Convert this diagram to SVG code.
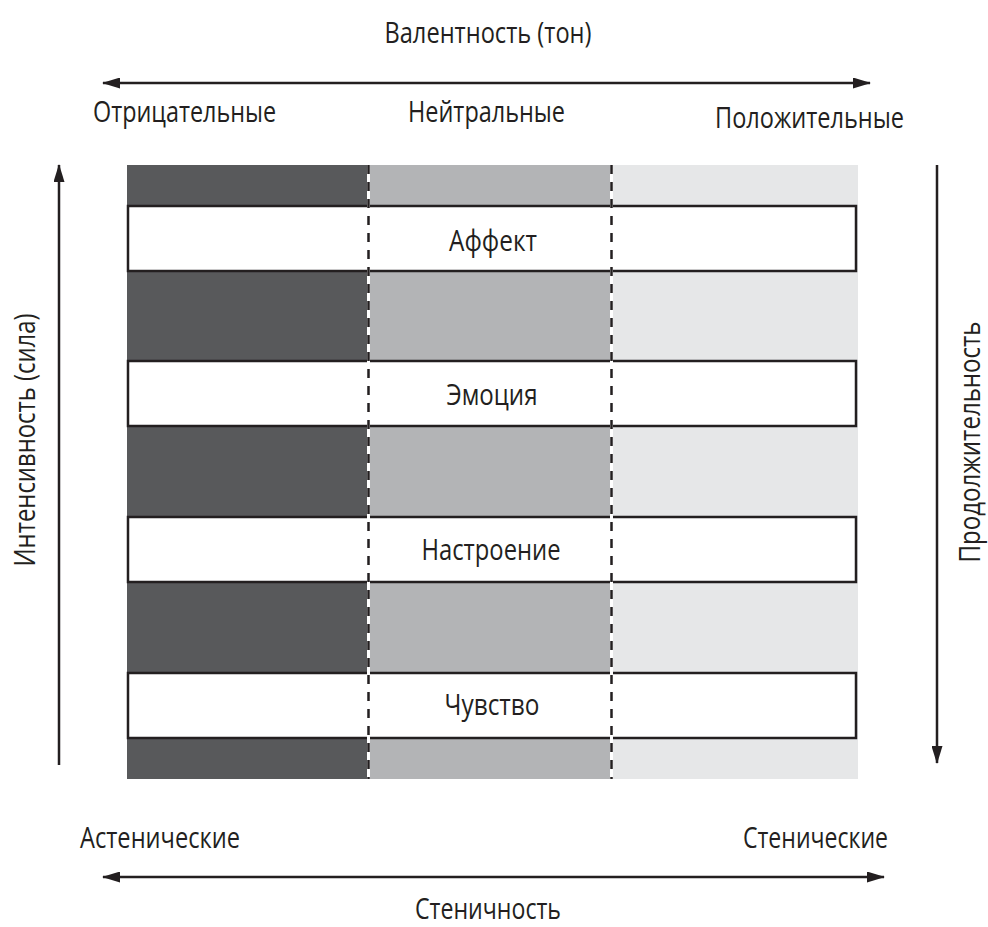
<svg xmlns="http://www.w3.org/2000/svg" width="988" height="927" viewBox="0 0 988 927">
<defs>
<style>
text{font-family:"Open Sans","Liberation Sans",sans-serif;font-size:29px;fill:#231f20;text-anchor:middle}
.box{fill:#fff;stroke:#231f20;stroke-width:2.5}
.gapline{stroke:#fff;stroke-width:3}
.dash{stroke:#231f20;stroke-width:2.5;stroke-dasharray:9,8}
.ax{stroke:#231f20;stroke-width:2.5;fill:none}
</style>
<marker id="ah" viewBox="0 0 18 11" refX="17" refY="5.5" markerWidth="18" markerHeight="11" markerUnits="userSpaceOnUse" orient="auto-start-reverse">
<path d="M0,0 L18,5.5 L0,11 z" fill="#231f20"/>
</marker>
</defs>
<rect width="988" height="927" fill="#fff"/>
<g id="bands">
<rect x="127" y="165" width="242" height="614" fill="#58595b"/>
<rect x="369" y="165" width="243" height="614" fill="#b3b4b6"/>
<rect x="612" y="165" width="246" height="614" fill="#e6e7e8"/>
</g>
<g id="affect"><rect class="box" x="128" y="206" width="728" height="65"/></g>
<g id="emotion"><rect class="box" x="128" y="361" width="728" height="65"/></g>
<g id="mood"><rect class="box" x="128" y="517" width="728" height="65"/></g>
<g id="feeling"><rect class="box" x="128" y="673" width="728" height="65"/></g>
<g id="dividers">
<line class="gapline" x1="368.5" y1="165" x2="368.5" y2="779"/>
<line class="gapline" x1="611.5" y1="165" x2="611.5" y2="779"/>
<line class="dash" x1="368.5" y1="165" x2="368.5" y2="779"/>
<line class="dash" x1="611.5" y1="165" x2="611.5" y2="779"/>
</g>
<g id="node-labels">
<text x="493" y="251" textLength="88" lengthAdjust="spacingAndGlyphs">Аффект</text>
<text x="492" y="405" textLength="91" lengthAdjust="spacingAndGlyphs">Эмоция</text>
<text x="491" y="560" textLength="139" lengthAdjust="spacingAndGlyphs">Настроение</text>
<text x="492" y="715" textLength="95" lengthAdjust="spacingAndGlyphs">Чувство</text>
</g>
<g id="connectors">
<line class="ax" x1="103" y1="83" x2="870" y2="83" marker-start="url(#ah)" marker-end="url(#ah)"/>
<line class="ax" x1="103" y1="877" x2="884" y2="877" marker-start="url(#ah)" marker-end="url(#ah)"/>
<line class="ax" x1="59" y1="765" x2="59" y2="165" marker-end="url(#ah)"/>
<line class="ax" x1="937" y1="165" x2="937" y2="763" marker-end="url(#ah)"/>
</g>
<g id="labels">
<text x="488" y="43" textLength="207" lengthAdjust="spacingAndGlyphs">Валентность (тон)</text>
<text x="184.5" y="122" textLength="183" lengthAdjust="spacingAndGlyphs">Отрицательные</text>
<text x="486.5" y="122" textLength="157" lengthAdjust="spacingAndGlyphs">Нейтральные</text>
<text x="809.5" y="128" textLength="189" lengthAdjust="spacingAndGlyphs">Положительные</text>
<text x="160" y="848" textLength="160" lengthAdjust="spacingAndGlyphs">Астенические</text>
<text x="815.5" y="848" textLength="145" lengthAdjust="spacingAndGlyphs">Стенические</text>
<text x="488" y="919" textLength="146" lengthAdjust="spacingAndGlyphs">Стеничность</text>
<text transform="translate(35,440) rotate(-90)" textLength="253" lengthAdjust="spacingAndGlyphs">Интенсивность (сила)</text>
<text transform="translate(980,442) rotate(-90)" textLength="241" lengthAdjust="spacingAndGlyphs">Продолжительность</text>
</g>
</svg>
